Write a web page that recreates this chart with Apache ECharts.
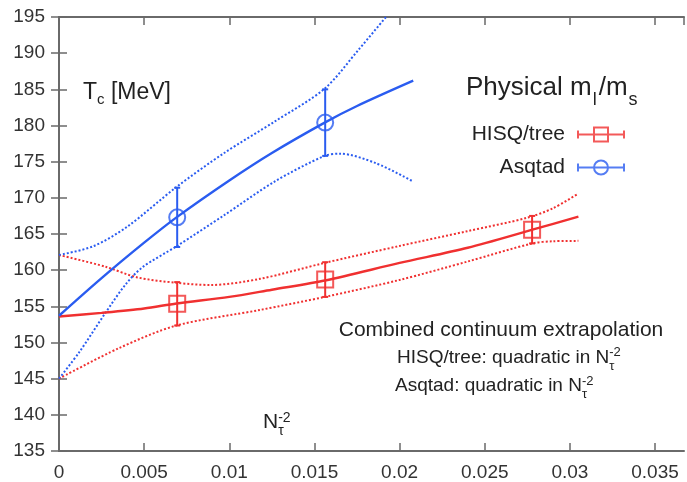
<!DOCTYPE html>
<html>
<head>
<meta charset="utf-8">
<script src="https://cdn.jsdelivr.net/npm/echarts@6/dist/echarts.min.js"></script>
<style>
html,body{margin:0;padding:0;background:#fff;}
#chart{width:687px;height:482px;}
</style>
</head>
<body>
<div id="chart"></div>
<script>
// ---------------- data ----------------
const xTicks = [0, 0.005, 0.01, 0.015, 0.02, 0.025, 0.03, 0.035];
const yTicks = [135, 140, 145, 150, 155, 160, 165, 170, 175, 180, 185, 190, 195];

// HISQ/tree data points (N_tau = 12, 8, 6)
const hisqX = [0.00694, 0.01563, 0.02778];
const hisqY = [155.35, 158.7, 165.6];
const hisqErr = [3.0, 2.4, 1.9];

// Asqtad data points
const asqX = [0.00694, 0.01563];
const asqY = [167.3, 180.4];
const asqErr = [4.1, 4.6];

// HISQ/tree fit (central, upper, lower)
const redCentralX = [0, 0.0025, 0.005, 0.0069, 0.01, 0.0125, 0.0157, 0.02, 0.024, 0.0278, 0.0305];
const redCentralY = [153.6, 154.1, 154.7, 155.4, 156.3, 157.3, 158.6, 161.0, 163.1, 165.6, 167.4];
const redUpperX = [0, 0.0027, 0.0046, 0.0069, 0.0089, 0.0118, 0.0155, 0.02, 0.024, 0.0275, 0.029, 0.0305];
const redUpperY = [162.1, 160.5, 159.0, 158.25, 157.95, 158.8, 160.95, 163.35, 165.4, 167.25, 168.55, 170.6];
const redLowerX = [0, 0.0035, 0.0069, 0.0118, 0.0157, 0.02, 0.024, 0.0278, 0.029, 0.0305];
const redLowerY = [145.0, 149.2, 152.35, 154.5, 156.35, 158.65, 161.2, 163.7, 164.0, 164.05];

// Asqtad fit (central, upper, lower)
const blueCentralX = [0, 0.0025, 0.005, 0.0069, 0.01, 0.0125, 0.0156, 0.0175, 0.0208];
const blueCentralY = [153.7, 158.9, 163.8, 167.3, 172.4, 176.2, 180.4, 182.7, 186.2];
const blueUpperX = [0, 0.002, 0.004, 0.0069, 0.0097, 0.0127, 0.0156, 0.0176, 0.0192];
const blueUpperY = [162.1, 163.3, 166.0, 171.5, 176.2, 180.6, 185.1, 190.5, 195.0];
const blueLowerX = [0, 0.0012, 0.0027, 0.0039, 0.0049, 0.0069, 0.0097, 0.0127, 0.0156, 0.0165, 0.0186, 0.0208];
const blueLowerY = [145.0, 148.7, 154.0, 158.0, 160.4, 163.3, 167.6, 172.3, 175.8, 176.1, 174.8, 172.25];

// ---------------- styling ----------------
const RED = '#f03030';
const BLUE = '#2a5cf0';
const FONT = '"Liberation Sans", Arial, Helvetica, sans-serif';
const TXT = '#222';
const AXC = '#6a6a6a';

const zip = (xs, ys) => xs.map((x, i) => [x, ys[i]]);
const errData = (xs, ys, es) => xs.map((x, i) => [x, ys[i] - es[i], ys[i] + es[i]]);

function lineSeries(name, xs, ys, color, dotted) {
  return {
    name, type: 'line', data: zip(xs, ys), smooth: 0.3, showSymbol: false,
    symbol: 'none', silent: true, clip: true, z: dotted ? 2 : 3,
    lineStyle: { color, width: dotted ? 2 : 2.4, type: dotted ? [2, 2] : 'solid' }
  };
}

function errSeries(name, data, color) {
  return {
    name, type: 'custom', data, z: 4, silent: true,
    encode: { x: 0, y: [1, 2] },
    renderItem: function (params, api) {
      const x = api.value(0);
      const lo = api.coord([x, api.value(1)]);
      const hi = api.coord([x, api.value(2)]);
      const st = { stroke: color, lineWidth: 2 };
      return {
        type: 'group', children: [
          { type: 'line', shape: { x1: lo[0], y1: lo[1], x2: hi[0], y2: hi[1] }, style: st },
          { type: 'line', shape: { x1: lo[0] - 3, y1: lo[1], x2: lo[0] + 3, y2: lo[1] }, style: st },
          { type: 'line', shape: { x1: hi[0] - 3, y1: hi[1], x2: hi[0] + 3, y2: hi[1] }, style: st }
        ]
      };
    }
  };
}

// text layout helper with sub/superscripts
const cv = document.createElement('canvas').getContext('2d');
function tw(t, s) { cv.font = s + 'px ' + FONT; return cv.measureText(t).width; }
function textGroup(x, y, parts, align) {
  let total = 0;
  parts.forEach(p => { total += (p.dx || 0); if (!p.stack) total += tw(p.t, p.s); });
  let cx = align === 'center' ? x - total / 2 : x;
  const out = [];
  parts.forEach(p => {
    cx += (p.dx || 0);
    out.push({
      type: 'text', silent: true, z: 10,
      style: {
        text: p.t, x: cx, y: y + (p.dy || 0), fill: TXT,
        fontSize: p.s, fontFamily: FONT, textAlign: 'left', textVerticalAlign: 'middle'
      }
    });
    if (!p.stack) cx += tw(p.t, p.s);
  });
  return out;
}

const graphics = [].concat(
  textGroup(83, 93, [{ t: 'T', s: 23 }, { t: 'c', s: 15, dy: 7 }, { t: ' [MeV]', s: 23 }]),
  textGroup(466, 88, [{ t: 'Physical m', s: 26 }, { t: 'l', s: 18, dy: 12, dx: 1 }, { t: '/m', s: 26, dx: 2 }, { t: 's', s: 18, dy: 12, dx: 1 }]),
  textGroup(501, 330, [{ t: 'Combined continuum extrapolation', s: 21 }], 'center'),
  textGroup(397, 358, [{ t: 'HISQ/tree: quadratic in N', s: 19 }, { t: 'τ', s: 13, dy: 8, stack: true }, { t: '-2', s: 13, dy: -6 }]),
  textGroup(395, 386, [{ t: 'Asqtad: quadratic in N', s: 19 }, { t: 'τ', s: 13, dy: 8, stack: true }, { t: '-2', s: 13, dy: -5 }]),
  textGroup(263, 422, [{ t: 'N', s: 21 }, { t: 'τ', s: 14, dy: 9, stack: true }, { t: '-2', s: 14, dy: -4 }])
);

const redIcon = 'path://M0,7H48V9H0Z M0,4H2V12H0Z M46,4H48V12H46Z M16,0H32V16H16Z M18,2V14H30V2Z';
const blueIcon = 'path://M0,7H48V9H0Z M0,4H2V12H0Z M46,4H48V12H46Z M16,8A8,8,0,1,1,32,8A8,8,0,1,1,16,8Z M18,8A6,6,0,1,0,30,8A6,6,0,1,0,18,8Z';

const axisCommon = {
  type: 'value',
  axisLine: { show: true, lineStyle: { color: AXC, width: 2 } },
  axisTick: { show: true, inside: true, length: 8, lineStyle: { color: AXC, width: 1.5 } },
  splitLine: { show: false }
};

const option = {
  animation: false,
  backgroundColor: '#fff',
  grid: { left: 59, right: 3, top: 17, bottom: 31, outerBoundsMode: 'none', containLabel: false },
  xAxis: [
    Object.assign({}, axisCommon, {
      min: xTicks[0], max: 0.0367, interval: xTicks[1] - xTicks[0], position: 'bottom',
      axisLabel: { show: true, fontSize: 19, fontFamily: FONT, color: '#333', margin: 12, showMaxLabel: false, showMinLabel: true,
        formatter: v => (xTicks.some(t => Math.abs(t - v) < 1e-9) ? String(+v.toFixed(3)) : '') }
    }),
    Object.assign({}, axisCommon, {
      min: xTicks[0], max: 0.0367, interval: xTicks[1] - xTicks[0], position: 'top',
      axisLabel: { show: false }
    })
  ],
  yAxis: [
    Object.assign({}, axisCommon, {
      min: yTicks[0], max: yTicks[yTicks.length - 1], interval: yTicks[1] - yTicks[0], position: 'left',
      axisLabel: { show: true, fontSize: 19, fontFamily: FONT, color: '#333', margin: 14 }
    }),
    Object.assign({}, axisCommon, {
      min: yTicks[0], max: yTicks[yTicks.length - 1], interval: yTicks[1] - yTicks[0], position: 'right',
      axisLabel: { show: false }
    })
  ],
  legend: {
    orient: 'vertical', right: 57, top: 119, itemWidth: 48, itemHeight: 16, itemGap: 12,
    align: 'right', selectedMode: false,
    textStyle: { fontSize: 21, fontFamily: FONT, color: TXT, padding: [0, 7, 0, 0] },
    data: [
      { name: 'HISQ/tree', icon: redIcon, itemStyle: { color: RED, borderWidth: 0 } },
      { name: 'Asqtad', icon: blueIcon, itemStyle: { color: BLUE, borderWidth: 0 } }
    ]
  },
  graphic: graphics,
  series: [
    lineSeries('redUpper', redUpperX, redUpperY, RED, true),
    lineSeries('redLower', redLowerX, redLowerY, RED, true),
    lineSeries('redCentral', redCentralX, redCentralY, RED, false),
    lineSeries('blueUpper', blueUpperX, blueUpperY, BLUE, true),
    lineSeries('blueLower', blueLowerX, blueLowerY, BLUE, true),
    lineSeries('blueCentral', blueCentralX, blueCentralY, BLUE, false),
    errSeries('hisqErr', errData(hisqX, hisqY, hisqErr), RED),
    errSeries('asqErr', errData(asqX, asqY, asqErr), BLUE),
    {
      name: 'HISQ/tree', type: 'scatter', data: zip(hisqX, hisqY), symbol: 'rect', symbolSize: 16, z: 5,
      itemStyle: { color: 'rgba(0,0,0,0)', borderColor: RED, borderWidth: 2 }
    },
    {
      name: 'Asqtad', type: 'scatter', data: zip(asqX, asqY), symbol: 'circle', symbolSize: 16, z: 5,
      itemStyle: { color: 'rgba(0,0,0,0)', borderColor: BLUE, borderWidth: 2 }
    }
  ]
};

const chart = echarts.init(document.getElementById('chart'), null, { renderer: 'canvas' });
chart.setOption(option);
</script>
</body>
</html>
